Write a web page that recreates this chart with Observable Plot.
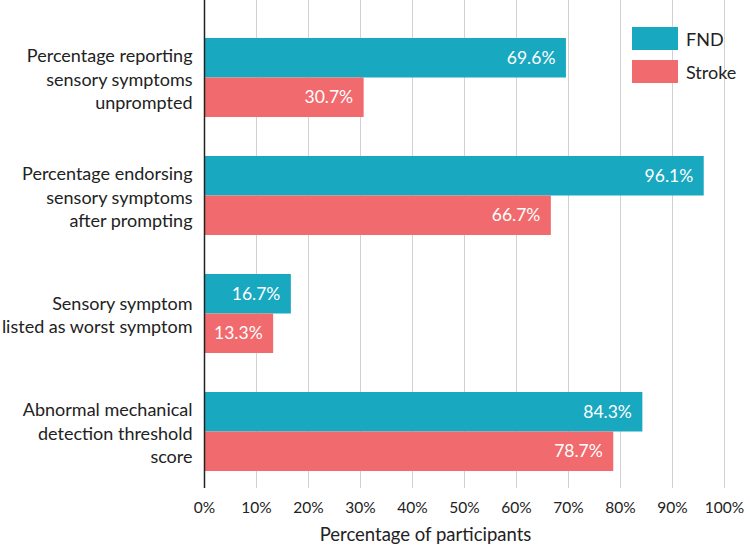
<!DOCTYPE html>
<html>
<head>
<meta charset="utf-8">
<script src="https://cdn.jsdelivr.net/npm/d3@7"></script>
<script src="https://cdn.jsdelivr.net/npm/@observablehq/plot@0.6"></script>
<style>
  html, body { margin: 0; padding: 0; background: #fff; }
  #chart { position: relative; width: 750px; height: 554px; font-family: Lato, sans-serif; }
  .legend { position: absolute; left: 632px; top: 27px; color: #222; font-size: 18px; }
  .legend .item { display: flex; align-items: center; height: 23px; margin-bottom: 10px; }
  .legend .swatch { width: 46px; height: 23px; margin-right: 8px; }
</style>
</head>
<body>
<div id="chart"></div>
<script>
// Survey outcomes, one row per question (label lines split with \n)
const categories = [
  "Percentage reporting\nsensory symptoms\nunprompted",
  "Percentage endorsing\nsensory symptoms\nafter prompting",
  "Sensory symptom\nlisted as worst symptom",
  "Abnormal mechanical\ndetection threshold\nscore"
];
const seriesNames = ["FND", "Stroke"];
const fndValues = [69.6, 96.1, 16.7, 84.3];
const strokeValues = [30.7, 66.7, 13.3, 78.7];
const xTicks = [0, 10, 20, 30, 40, 50, 60, 70, 80, 90, 100];
const axisTitle = "Percentage of participants";

const colors = { FND: "#18a8c0", Stroke: "#f16a6d" };

const fndRows = categories.map((c, i) => ({ category: c, series: "FND", value: fndValues[i] }));
const strokeRows = categories.map((c, i) => ({ category: c, series: "Stroke", value: strokeValues[i] }));

const band = 79;          // height of one category's pair of bars
const half = band / 2;

const chart = Plot.plot({
  width: 750,
  height: 554,
  marginTop: 0,
  marginBottom: 66,
  marginLeft: 204,
  marginRight: 26,
  style: { fontFamily: "Lato, sans-serif", color: "#222", background: "#fff" },
  x: { domain: [0, 100], label: null },
  y: { domain: categories, range: [36.5, 471.5], paddingInner: 0.3343, paddingOuter: 0, axis: null },
  marks: [
    Plot.ruleX(xTicks.filter(d => d > 0), { stroke: "#d2d2d2", strokeWidth: 1 }),
    Plot.barX(fndRows, { x: "value", y: "category", fill: colors.FND, insetBottom: half }),
    Plot.barX(strokeRows, { x: "value", y: "category", fill: colors.Stroke, insetTop: half }),
    Plot.ruleX([0], { stroke: "#222", strokeWidth: 1.5 }),
    Plot.text(fndRows, {
      x: "value", y: "category", text: d => d.value.toFixed(1) + "%",
      textAnchor: "end", dx: -11, dy: -half / 2, fill: "#fff", fontSize: 17.5
    }),
    Plot.text(strokeRows, {
      x: "value", y: "category", text: d => d.value.toFixed(1) + "%",
      textAnchor: "end", dx: -11, dy: half / 2, fill: "#fff", fontSize: 17.5
    }),
    Plot.text(categories, {
      y: d => d, text: d => d, frameAnchor: "left", textAnchor: "end",
      dx: -12, lineHeight: 1.32, fontSize: 18, fill: "#222"
    }),
    Plot.axisX(xTicks, {
      tickSize: 0, tickPadding: 13, tickFormat: d => d + "%",
      fontSize: 15.5, fill: "#222", label: null
    }),
    Plot.text([axisTitle], {
      text: d => d, frameAnchor: "bottom", dx: -39, dy: 52, fontSize: 18.5, fill: "#222"
    })
  ]
});

const root = document.getElementById("chart");
root.appendChild(chart);

// Series key in the upper right of the plot area
const legend = document.createElement("div");
legend.className = "legend";
for (const name of seriesNames) {
  const item = document.createElement("div");
  item.className = "item";
  const sw = document.createElement("div");
  sw.className = "swatch";
  sw.style.background = colors[name];
  const label = document.createElement("span");
  label.textContent = name;
  item.appendChild(sw);
  item.appendChild(label);
  legend.appendChild(item);
}
root.appendChild(legend);
</script>
</body>
</html>
